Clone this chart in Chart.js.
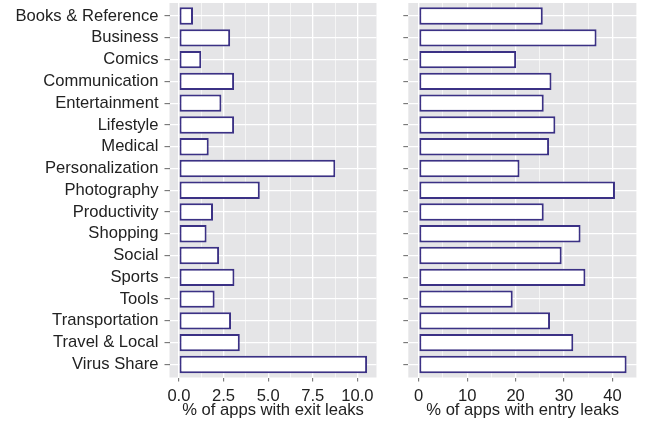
<!DOCTYPE html>
<html>
<head>
<meta charset="utf-8">
<script src="https://cdn.jsdelivr.net/npm/chart.js@4/dist/chart.umd.min.js"></script>
<style>
  html, body { margin: 0; padding: 0; background: #ffffff; }
  body { width: 654px; height: 422px; position: relative; overflow: hidden; }
  #wl { position: absolute; left: 0; top: 0; width: 390px; height: 422px; }
  #wr { position: absolute; left: 390px; top: 0; width: 264px; height: 422px; }
</style>
</head>
<body>
<div id="wl"><canvas id="left"></canvas></div>
<div id="wr"><canvas id="right"></canvas></div>
<script>
const categories = ["Books & Reference", "Business", "Comics", "Communication", "Entertainment",
  "Lifestyle", "Medical", "Personalization", "Photography", "Productivity", "Shopping",
  "Social", "Sports", "Tools", "Transportation", "Travel & Local", "Virus Share"];
const exitLeaks = [0.79, 2.87, 1.25, 3.09, 2.38, 3.09, 1.67, 8.76, 4.53, 1.91, 1.55, 2.25, 3.11, 2.0, 2.92, 3.41, 10.54];
const entryLeaks = [25.6, 36.7, 20.1, 27.4, 25.8, 28.2, 26.9, 20.8, 40.5, 25.8, 33.4, 29.5, 34.4, 19.4, 27.1, 31.9, 42.9];
const exitMajorTicks = [0, 2.5, 5, 7.5, 10];
const exitMinorTicks = [1.25, 3.75, 6.25, 8.75];
const entryMajorTicks = [0, 10, 20, 30, 40];
const entryMinorTicks = [5, 15, 25, 35, 45];
const exitTitle = "% of apps with exit leaks";
const entryTitle = "% of apps with entry leaks";

const FONT = "'Liberation Sans', Arial, Helvetica, sans-serif";
const FSIZE = 16.6;
const TEXT = "#222222";
const BG = "#E5E5E7";
const TICKC = "#666666";
const BAR_BORDER = "#3B3185";

const panelBg = {
  id: 'panelBg',
  beforeDraw(chart) {
    const a = chart.chartArea, c = chart.ctx;
    c.save();
    c.fillStyle = BG;
    c.fillRect(a.left, a.top, a.right - a.left, a.bottom - a.top);
    c.restore();
  }
};

function makeChart(id, values, majors, minors, title, yWidth, padRight, showLabels, decimals) {
  const allTicks = majors.concat(minors).sort((a, b) => a - b);
  const maxV = Math.max(...values);
  const range = maxV - 0;
  const isMajor = v => majors.some(m => Math.abs(m - v) < 1e-9);
  return new Chart(document.getElementById(id), {
    type: 'bar',
    data: {
      datasets: [{
        data: values.map((v, i) => ({ x: v, y: i })),
        backgroundColor: '#ffffff',
        borderColor: BAR_BORDER,
        borderWidth: 2,
        borderSkipped: false,
        barPercentage: 0.8,
        categoryPercentage: 1.0
      }]
    },
    options: {
      indexAxis: 'y',
      responsive: true,
      maintainAspectRatio: false,
      animation: false,
      layout: { padding: { top: 3, right: padRight, left: 0, bottom: 0 } },
      plugins: { legend: { display: false }, tooltip: { enabled: false } },
      scales: {
        x: {
          type: 'linear',
          offset: false,
          min: 0 - 0.05 * range,
          max: maxV + 0.05 * range,
          afterBuildTicks: s => { s.ticks = allTicks.map(v => ({ value: v })); },
          afterFit: s => { s.height = 44.5; s.paddingLeft = 0; s.paddingRight = 0; },
          border: { display: false },
          grid: {
            offset: false,
            color: '#ffffff',
            lineWidth: ctx => (ctx.tick && isMajor(ctx.tick.value)) ? 1.3 : 0.6,
            drawTicks: true,
            tickLength: 4,
            tickColor: ctx => (ctx.tick && isMajor(ctx.tick.value)) ? TICKC : 'rgba(0,0,0,0)',
            tickWidth: 1
          },
          ticks: {
            autoSkip: false,
            maxRotation: 0,
            padding: 4.5,
            color: TEXT,
            font: { family: FONT, size: FSIZE },
            callback: v => isMajor(v) ? v.toFixed(decimals) : ''
          },
          title: {
            display: true,
            text: title,
            color: TEXT,
            font: { family: FONT, size: FSIZE },
            padding: { top: 0, bottom: 2 }
          }
        },
        y: {
          type: 'linear',
          offset: false,
          reverse: true,
          min: -0.6,
          max: categories.length - 1 + 0.6,
          afterBuildTicks: s => { s.ticks = categories.map((c, i) => ({ value: i })); },
          afterFit: s => { s.width = yWidth; s.paddingTop = 0; s.paddingBottom = 0; },
          border: { display: false },
          grid: {
            offset: false,
            color: '#ffffff',
            lineWidth: 1.3,
            drawTicks: true,
            tickLength: 5,
            tickColor: TICKC,
            tickWidth: 1
          },
          ticks: {
            autoSkip: false,
            padding: 6,
            color: TEXT,
            font: { family: FONT, size: FSIZE },
            callback: v => showLabels ? categories[v] : ''
          }
        }
      }
    },
    plugins: [panelBg]
  });
}

makeChart('left', exitLeaks, exitMajorTicks, exitMinorTicks, exitTitle, 169.5, 13.5, true, 1);
makeChart('right', entryLeaks, entryMajorTicks, entryMinorTicks, entryTitle, 18.3, 17, false, 0);
</script>
</body>
</html>
